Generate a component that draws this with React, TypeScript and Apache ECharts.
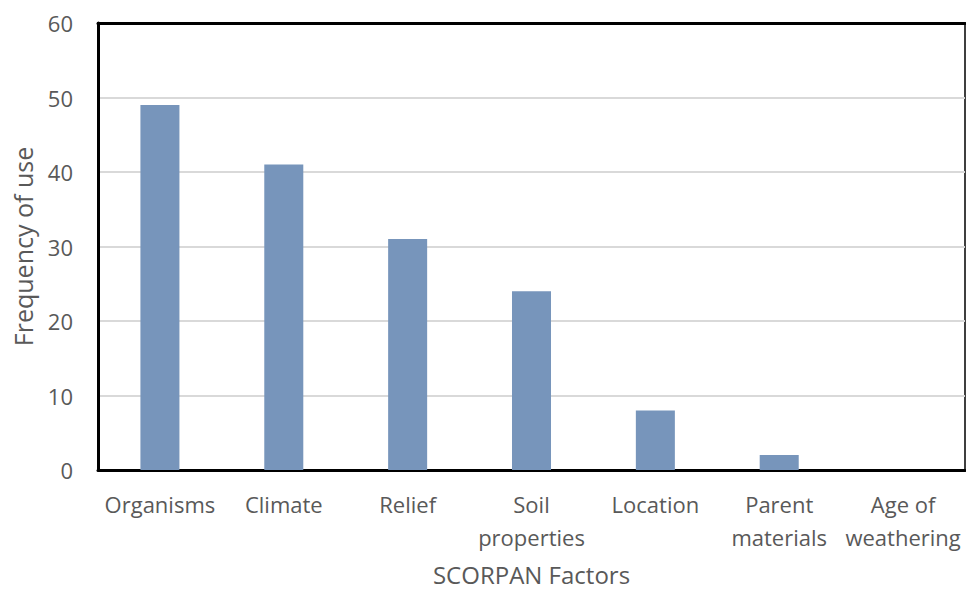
import React, { useEffect, useRef } from "react";
import * as echarts from "echarts";

const categories = [
  "Organisms",
  "Climate",
  "Relief",
  "Soil\nproperties",
  "Location",
  "Parent\nmaterials",
  "Age of\nweathering",
];
const frequency = [49, 41, 31, 24, 8, 2, 0];

const FONT = "'Open Sans', sans-serif";
const TEXT = "#595959";

export default function App() {
  const ref = useRef<HTMLDivElement>(null);
  useEffect(() => {
    if (!ref.current) return;
    const chart = echarts.init(ref.current, undefined, { renderer: "svg" });
    chart.setOption({
      animation: false,
      textStyle: { fontFamily: FONT },
      grid: {
        left: 98,
        right: 1,
        top: 23,
        bottom: 120,
        containLabel: false,
        outerBoundsMode: "none",
        show: true,
        borderColor: "#000",
        borderWidth: 1.5,
      },
      xAxis: [
        {
          type: "category",
          data: categories,
          axisLine: { lineStyle: { color: "#000", width: 3 } },
          axisTick: { show: false },
          axisLabel: {
            color: TEXT,
            fontSize: 22,
            fontFamily: FONT,
            margin: 17,
            lineHeight: 33,
            interval: 0,
          },
          name: "SCORPAN Factors",
          nameLocation: "middle",
          nameGap: 92,
          nameTextStyle: { color: TEXT, fontSize: 24, fontFamily: FONT },
        },
        {
          type: "category",
          data: categories,
          position: "top",
          axisLine: { lineStyle: { color: "#000", width: 3 } },
          axisTick: { show: false },
          axisLabel: { show: false },
        },
      ],
      yAxis: {
        type: "value",
        min: 0,
        max: 60,
        interval: 10,
        axisLine: { show: true, lineStyle: { color: "#000", width: 3 } },
        axisTick: { show: false },
        axisLabel: { color: TEXT, fontSize: 22, fontFamily: FONT, margin: 25 },
        splitLine: { lineStyle: { color: "#d9d9d9", width: 2 } },
        name: "Frequency of use",
        nameLocation: "middle",
        nameGap: 63,
        nameTextStyle: { color: TEXT, fontSize: 25, fontFamily: FONT },
      },
      series: [
        {
          type: "bar",
          data: frequency,
          barWidth: "31.5%",
          itemStyle: { color: "#7795bb" },
        },
      ],
    });
    return () => chart.dispose();
  }, []);
  return <div ref={ref} style={{ width: 966, height: 590, position: "absolute", left: 0, top: 0 }} />;
}
